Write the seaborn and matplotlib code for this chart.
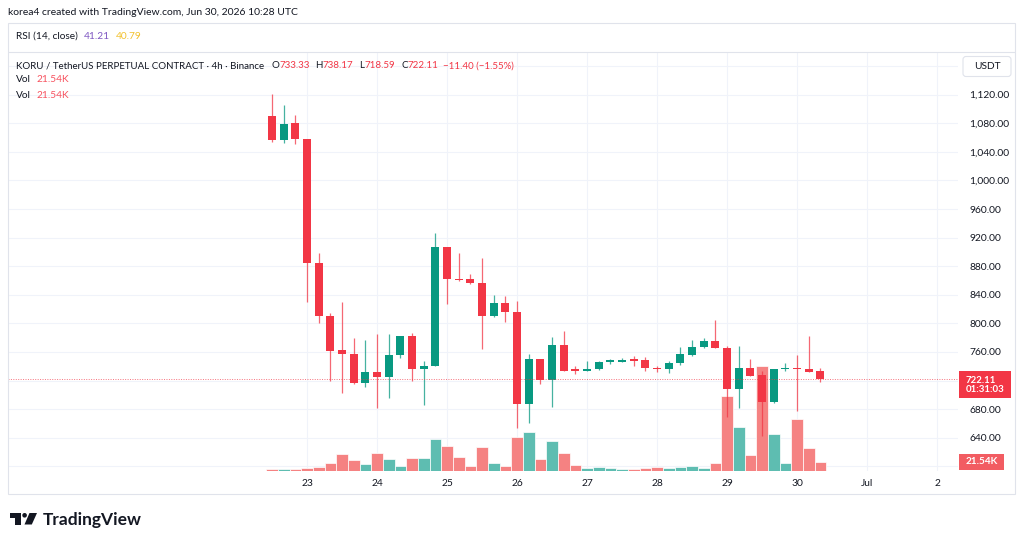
import numpy as np
import pandas as pd
import matplotlib
matplotlib.use("Agg")
import matplotlib.pyplot as plt
import matplotlib.dates as mdates
import matplotlib.transforms as mtransforms
from matplotlib.patches import Rectangle, FancyBboxPatch, Polygon, Circle
import seaborn as sns

# 4h candles, KORU/USDT perp (Binance)
candle_start = "2026-06-22 12:00"
opens = [1090.6, 1056, 1080.5, 1058.5, 884, 810.5, 762.5, 757, 716, 732,
         725, 756, 782, 736.5, 741, 906.5, 862, 862, 856.5, 810,
         829, 816, 686.5, 749.5, 720.5, 769.5, 735.5, 734, 736, 746,
         746, 749.5, 748.5, 737.5, 735.5, 745, 755.5, 766.5, 775.5, 765.5,
         707.5, 737, 727.5, 690.5, 735.5, 738, 735.5, 733.33]
highs = [1121, 1105, 1091.5, 1058.5, 898, 814, 830, 780, 777, 785,
         785, 783, 786, 747, 926, 906.5, 898.5, 869, 891.5, 840,
         838.5, 831, 756.5, 749.5, 780.5, 789.5, 741, 747, 747, 750.5,
         752, 755, 753.5, 741, 747, 767.5, 776.5, 779, 804.5, 768.5,
         768.5, 750, 734, 736, 745, 755.5, 782.5, 738.17]
lows = [1053.5, 1052, 1050.5, 830, 801, 720, 702, 715, 711.5, 681,
        696, 752, 720, 686, 741, 826.5, 859, 854.5, 764.5, 808.5,
        801.5, 653, 661, 715, 683.5, 733.5, 729, 733, 735, 743.5,
        745.5, 741, 734, 732.5, 730, 741.5, 754.5, 766, 765, 669.5,
        682, 727, 643, 689, 734, 678, 732, 718.59]
closes = [1056, 1079.5, 1058.5, 884, 810.5, 762, 757, 716, 732, 725,
          756, 782, 736.5, 741, 906.5, 862, 860.5, 856.5, 810, 829,
          816, 686.5, 749.5, 720.5, 769.5, 733.5, 733.5, 736.5, 746.5, 748.5,
          749, 748, 737, 735.5, 745, 756.5, 766.5, 775.5, 765, 707.5,
          737, 727, 690.5, 736, 738, 735.5, 732.5, 722.11]
volumes_k = [3, 3, 3, 5.5, 9.5, 19, 40, 25.5, 16.5, 43,
             28, 11, 31, 29.5, 76.5, 60, 32.5, 11, 57, 19,
             12, 80, 92, 28, 70, 42, 14, 7, 8.8, 6.4,
             4, 4, 6.4, 7.7, 6.4, 8.8, 10.4, 6.4, 18.3, 179,
             104, 37.4, 250, 87, 18.3, 122.7, 54, 21.54]

# 600 / 720 / 1160 labels sit under the volume, price and USDT boxes
price_ticks = [600, 640, 680, 720, 760, 800, 840, 880, 920, 960, 1000, 1040, 1080, 1120, 1160]
price_tick_labels = ["", "640.00", "680.00", "", "760.00", "800.00", "840.00", "880.00",
                     "920.00", "960.00", "1,000.00", "1,040.00", "1,080.00", "1,120.00", ""]
day_ticks = ["2026-06-23", "2026-06-24", "2026-06-25", "2026-06-26", "2026-06-27",
             "2026-06-28", "2026-06-29", "2026-06-30", "2026-07-01", "2026-07-02"]
day_tick_labels = ["23", "24", "25", "26", "27", "28", "29", "30", "Jul", "2"]

header = "korea4 created with TradingView.com, Jun 30, 2026 10:28 UTC"
symbol_title = "KORU / TetherUS PERPETUAL CONTRACT · 4h · Binance"
rsi_title = "RSI (14, close)"
rsi_values = ["41.21", "40.79"]
change_label = "\u221211.40 (\u22121.55%)"
countdown_label = "01:31:03"
last_volume_label = "21.54K"

UP = "#089981"
DOWN = "#F23645"
VOL_UP = "#5EBDB1"
VOL_DOWN = "#F58282"
TXT = "#131722"
GRID = "#F0F3FA"
FRAME = "#E0E3EB"

sns.set_theme(style="white")
plt.rcParams["font.family"] = ["Lato", "DejaVu Sans"]

W, H = 1024, 546
fig = plt.figure(figsize=(W / 100, H / 100), dpi=100, facecolor="white")

# pixel (top-left origin) -> figure
pix = mtransforms.Affine2D().scale(1 / W, -1 / H).translate(0, 1) + fig.transFigure

L, R, T, B = 8, 958, 52, 471
ax = fig.add_axes([L / W, 1 - B / H, (R - L) / W, (B - T) / H])
ax_vol = ax.twinx()
ax_c = ax.twinx()
ax.yaxis.tick_right()

times = pd.date_range(candle_start, periods=len(opens), freq="4h")
x = mdates.date2num(times)
o = np.array(opens)
h = np.array(highs)
lo = np.array(lows)
c = np.array(closes)
up = c >= o

# volume
vol_colors = [VOL_UP if u else VOL_DOWN for u in up]
ax_vol.bar(x, volumes_k, width=1 / 6, color=vol_colors, edgecolor="white", linewidth=0.5)
ax_vol.set_ylim(-0.72, 1002)

# candles
cols = [UP if u else DOWN for u in up]
ax_c.vlines(x, lo, h, colors=cols, linewidth=0.9, alpha=0.75)
body = np.maximum(np.abs(c - o), 1.5)
ax_c.bar(x, body, bottom=np.minimum(o, c), width=0.114, color=cols, linewidth=0)
ax_c.axhline(c[-1], color=DOWN, lw=0.7, ls=(0, (1, 1.5)), alpha=0.7)

ylim = (593.4, 1179.7)
for a in (ax, ax_c):
    a.set_ylim(*ylim)
ax.set_xlim(x[0] - 264 / 70, x[0] + 686 / 70)

ax.set_yticks(price_ticks)
ax.set_yticklabels(price_tick_labels)
ax.set_xticks(mdates.date2num(pd.to_datetime(day_ticks)))
ax.set_xticklabels(day_tick_labels)
ax.tick_params(axis="y", length=0, pad=8, labelsize=7.4, labelcolor=TXT)
ax.tick_params(axis="x", length=0, pad=6, labelsize=7.4, labelcolor=TXT)
ax.grid(True, color=GRID, lw=0.8)
for a in (ax_vol, ax_c):
    a.set_yticks([])
for a in (ax, ax_vol, ax_c):
    sns.despine(ax=a, left=True, bottom=True, right=True, top=True)

# chart frame
fig.patches.append(Rectangle((8, 23), 1007, 470.5, transform=pix, fill=False,
                             edgecolor=FRAME, lw=0.8))
fig.lines.append(plt.Line2D([8, 1015], [52.3, 52.3], transform=pix, color=FRAME, lw=0.8))

renderer = fig.canvas.get_renderer()


def text_run(x0, y0, parts, size=7.3):
    xx = x0
    for s, color, gap in parts:
        t = fig.text(xx, y0, s, color=color, fontsize=size, va="center", ha="left", transform=pix)
        xx += t.get_window_extent(renderer).width + gap


fig.text(8, 12.5, header, fontsize=7.5, color=TXT, va="center", ha="left", transform=pix)
text_run(16, 36.5, [(rsi_title, TXT, 6), (rsi_values[0], "#7E57C2", 6), (rsi_values[1], "#F2C12E", 0)])
text_run(16, 65.7, [(symbol_title, TXT, 7),
                    ("O", TXT, 0), (f"{opens[-1]:.2f}", DOWN, 6),
                    ("H", TXT, 0), (f"{highs[-1]:.2f}", DOWN, 6),
                    ("L", TXT, 0), (f"{lows[-1]:.2f}", DOWN, 6),
                    ("C", TXT, 0), (f"{closes[-1]:.2f}", DOWN, 5),
                    (change_label, DOWN, 0)], size=7.05)
for yy in (80, 95):
    text_run(16, yy, [("Vol", TXT, 6), (last_volume_label, "#F7525F", 0)])

# USDT box
fig.patches.append(FancyBboxPatch((963, 56.5), 48, 20, boxstyle="round,pad=0,rounding_size=3",
                                  transform=pix, facecolor="white", edgecolor=FRAME, lw=0.8))
fig.text(987, 66.5, "USDT", fontsize=7.3, color=TXT, ha="center", va="center", transform=pix)

# last price box (price + bar countdown)
yp = H - ax_c.transData.transform((x[-1], c[-1]))[1]
fig.patches.append(Rectangle((959, yp - 8.5), 52, 27.5, transform=pix, facecolor=DOWN, edgecolor="none"))
fig.text(966, yp + 6, f"{closes[-1]:.2f}\n{countdown_label}", fontsize=6.9, color="white",
         ha="left", va="center", linespacing=1.05, transform=pix, fontweight="bold")

# last volume box
yv = H - ax_vol.transData.transform((x[-1], volumes_k[-1]))[1]
fig.patches.append(Rectangle((959, yv - 8), 45, 16.5, transform=pix, facecolor="#F25C62", edgecolor="none"))
fig.text(966, yv, last_volume_label, fontsize=7.2, color="white", ha="left", va="center",
         transform=pix, fontweight="bold")

# TradingView logo
fig.patches.append(Polygon([(10, 513), (21, 513), (21, 524.5), (15.3, 524.5), (15.3, 517.5), (10, 517.5)],
                           closed=True, transform=pix, facecolor=TXT, edgecolor="none"))
fig.patches.append(Circle((24.6, 515.3), 2.3, transform=pix, facecolor=TXT, edgecolor="none"))
fig.patches.append(Polygon([(29.5, 513), (37, 513), (31.8, 524.5), (24.5, 524.5)],
                           closed=True, transform=pix, facecolor=TXT, edgecolor="none"))
fig.text(42.5, 524.5, "TradingView", fontsize=12.5, color=TXT, ha="left", va="baseline",
         transform=pix, fontweight="bold")

fig.savefig("out.png", dpi=100, facecolor="white")
